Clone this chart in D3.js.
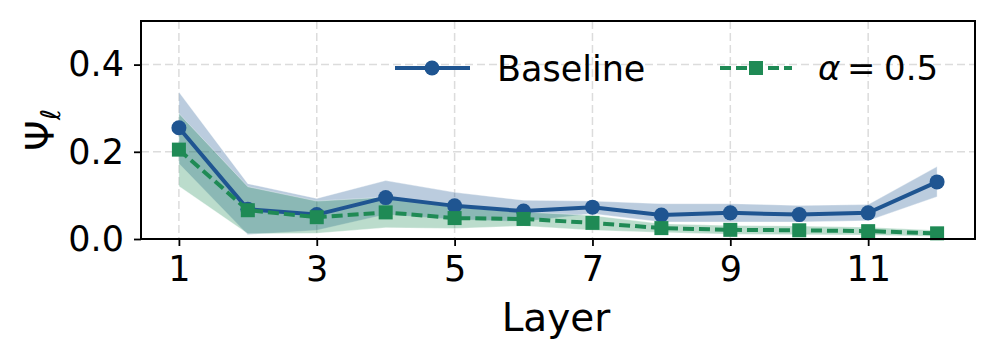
<!DOCTYPE html>
<html>
<head>
<meta charset="utf-8">
<script src="https://cdn.jsdelivr.net/npm/d3@7"></script>
<style>
  body { margin: 0; background: #fff; }
  svg { display: block; font-family: "DejaVu Sans", sans-serif; }
</style>
</head>
<body>
<div class="chart"></div>
<script>
var svgWidth = 996;
var svgHeight = 356;

var margin = { top: 21, right: 21, bottom: 117, left: 141 };
var width = svgWidth - margin.left - margin.right;
var height = svgHeight - margin.top - margin.bottom;

// data
var layers = [1, 2, 3, 4, 5, 6, 7, 8, 9, 10, 11, 12];
var baseline = [0.255, 0.068, 0.056, 0.095, 0.076, 0.064, 0.073, 0.055, 0.060, 0.056, 0.060, 0.131];
var baselineLow = [0.173, 0.010, 0.020, 0.056, 0.045, 0.040, 0.058, 0.039, 0.039, 0.039, 0.042, 0.097];
var baselineHigh = [0.337, 0.127, 0.093, 0.134, 0.107, 0.089, 0.087, 0.081, 0.081, 0.077, 0.079, 0.166];
var alpha05 = [0.205, 0.066, 0.050, 0.061, 0.048, 0.046, 0.037, 0.025, 0.021, 0.020, 0.018, 0.013];
var alpha05Low = [0.121, 0.012, 0.013, 0.026, 0.024, 0.030, 0.020, 0.015, 0.011, 0.010, 0.009, 0.006];
var alpha05High = [0.288, 0.120, 0.087, 0.096, 0.073, 0.062, 0.054, 0.035, 0.031, 0.030, 0.027, 0.020];

var xTicks = [1, 3, 5, 7, 9, 11];
var yTicks = [0.0, 0.2, 0.4];

var blue = "#1f5591";
var green = "#1f8a55";

var svg = d3.select(".chart")
  .append("svg")
  .attr("width", svgWidth)
  .attr("height", svgHeight);

var chartGroup = svg.append("g")
  .attr("transform", `translate(${margin.left}, ${margin.top})`);

var xScale = d3.scaleLinear().domain([0.45, 12.55]).range([0, width]);
var yScale = d3.scaleLinear().domain([0, 0.5]).range([height, 0]);

// grid
chartGroup.append("g").selectAll("line")
  .data(xTicks).enter().append("line")
  .attr("x1", d => xScale(d)).attr("x2", d => xScale(d))
  .attr("y1", 0).attr("y2", height)
  .attr("stroke", "#dcdcdc").attr("stroke-width", 1.5)
  .attr("stroke-dasharray", "8,4");

chartGroup.append("g").selectAll("line")
  .data(yTicks).enter().append("line")
  .attr("x1", 0).attr("x2", width)
  .attr("y1", d => yScale(d)).attr("y2", d => yScale(d))
  .attr("stroke", "#dcdcdc").attr("stroke-width", 1.5)
  .attr("stroke-dasharray", "8,4");

// bands
function band(low, high) {
  return d3.area()
    .x((d, i) => xScale(layers[i]))
    .y0((d, i) => yScale(low[i]))
    .y1((d, i) => yScale(high[i]))(layers);
}

chartGroup.append("path")
  .attr("d", band(baselineLow, baselineHigh))
  .attr("fill", blue).attr("fill-opacity", 0.3)
  .attr("stroke", "#ffffff").attr("stroke-opacity", 0.35).attr("stroke-width", 1);

chartGroup.append("path")
  .attr("d", band(alpha05Low, alpha05High))
  .attr("fill", green).attr("fill-opacity", 0.3)
  .attr("stroke", "#ffffff").attr("stroke-opacity", 0.35).attr("stroke-width", 1);

// lines
var line = d3.line().x((d, i) => xScale(layers[i])).y(d => yScale(d));

chartGroup.append("path")
  .attr("d", line(baseline))
  .attr("fill", "none").attr("stroke", blue).attr("stroke-width", 4);

chartGroup.selectAll(".dotB")
  .data(baseline).enter().append("circle")
  .attr("class", "dotB")
  .attr("cx", (d, i) => xScale(layers[i]))
  .attr("cy", d => yScale(d))
  .attr("r", 7.5)
  .attr("fill", blue);

chartGroup.append("path")
  .attr("d", line(alpha05))
  .attr("fill", "none").attr("stroke", green).attr("stroke-width", 4)
  .attr("stroke-dasharray", "11,5");

chartGroup.selectAll(".dotG")
  .data(alpha05).enter().append("rect")
  .attr("class", "dotG")
  .attr("x", (d, i) => xScale(layers[i]) - 7)
  .attr("y", d => yScale(d) - 7)
  .attr("width", 14).attr("height", 14)
  .attr("fill", green);

// axes
var bottomAxis = d3.axisBottom(xScale).tickValues(xTicks).tickSize(7).tickPadding(10)
  .tickFormat(d3.format("d"));
var leftAxis = d3.axisLeft(yScale).tickValues(yTicks).tickSize(7).tickPadding(10)
  .tickFormat(d3.format(".1f"));

var xAxis = chartGroup.append("g")
  .attr("transform", `translate(0, ${height})`)
  .call(bottomAxis);
var yAxis = chartGroup.append("g").call(leftAxis);

[xAxis, yAxis].forEach(function(ax) {
  ax.select(".domain").remove();
  ax.selectAll("line").attr("stroke", "#000").attr("stroke-width", 1.8);
  ax.selectAll("text")
    .attr("fill", "#000")
    .style("font-family", "DejaVu Sans")
    .style("font-size", "35px");
});

// frame
chartGroup.append("rect")
  .attr("x", 0).attr("y", 0)
  .attr("width", width).attr("height", height)
  .attr("fill", "none").attr("stroke", "#000").attr("stroke-width", 2);

// axis labels
chartGroup.append("text")
  .attr("x", width / 2 - 2)
  .attr("y", height + 92)
  .attr("text-anchor", "middle")
  .style("font-size", "39px")
  .text("Layer");

var yLab = chartGroup.append("text")
  .attr("transform", `translate(${40 - margin.left}, ${height / 2}) rotate(-90)`)
  .attr("text-anchor", "middle")
  .attr("dy", "0.35em")
  .style("font-size", "39px");
yLab.append("tspan").text("Ψ");
yLab.append("tspan")
  .attr("dy", "0.25em")
  .style("font-style", "italic")
  .style("font-size", "27px")
  .text("ℓ");

// legend
var legend = svg.append("g");

legend.append("line")
  .attr("x1", 395).attr("x2", 470).attr("y1", 68).attr("y2", 68)
  .attr("stroke", blue).attr("stroke-width", 4);
legend.append("circle")
  .attr("cx", 432).attr("cy", 68).attr("r", 7.5).attr("fill", blue);
legend.append("text")
  .attr("x", 497).attr("y", 68).attr("dy", "0.36em")
  .style("font-size", "35px")
  .text("Baseline");

legend.append("line")
  .attr("x1", 720).attr("x2", 792).attr("y1", 68).attr("y2", 68)
  .attr("stroke", green).attr("stroke-width", 4)
  .attr("stroke-dasharray", "11,5");
legend.append("rect")
  .attr("x", 749).attr("y", 61).attr("width", 14).attr("height", 14)
  .attr("fill", green);
var aText = legend.append("g").style("font-size", "34px");
aText.append("text").attr("x", 818).attr("y", 80).style("font-style", "italic").text("α");
aText.append("text").attr("x", 847).attr("y", 80).text("=");
aText.append("text").attr("x", 884).attr("y", 80).text("0.5");
</script>
</body>
</html>
